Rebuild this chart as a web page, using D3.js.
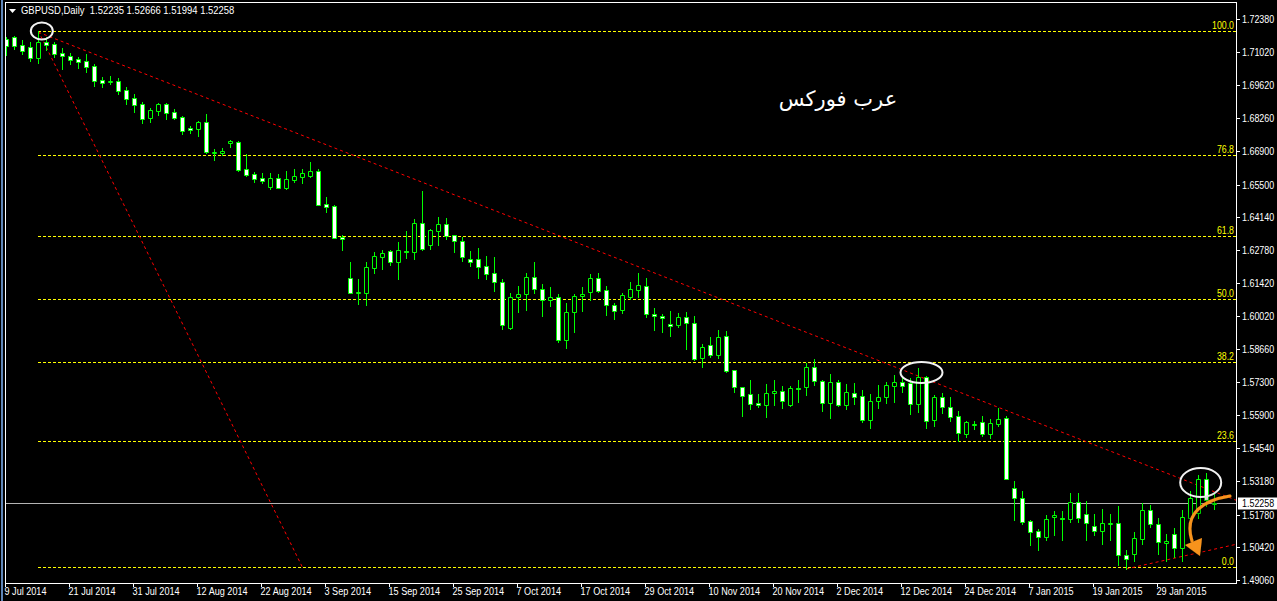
<!DOCTYPE html>
<html><head><meta charset="utf-8">
<script src="https://cdn.jsdelivr.net/npm/d3@7"></script>
<style>
html,body{margin:0;padding:0;background:#000;overflow:hidden}
svg{display:block}
text{font-family:"Liberation Sans",Arial,sans-serif}
</style></head><body>
<svg id="c" width="1277" height="601"></svg>
<script>
// ---------- data ----------
const symbolLabel = "GBPUSD,Daily";
const opens = [1.7155,1.7163,1.7130,1.7122,1.7076,1.7142,1.7134,1.7097,1.7084,1.7072,
1.7063,1.7043,1.6984,1.6976,1.6980,1.6943,1.6910,1.6885,1.6826,1.6856,
1.6885,1.6851,1.6831,1.6785,1.6781,1.6810,1.6683,1.6681,1.6723,1.6727,
1.6614,1.6594,1.6577,1.6540,1.6577,1.6536,1.6569,1.6581,1.6585,1.6606,
1.6469,1.6461,1.6332,1.6161,1.6101,1.6099,1.6203,1.6249,1.6274,1.6228,
1.6274,1.6269,1.6390,1.6299,1.6357,1.6386,1.6340,1.6315,1.6240,1.6240,
1.6211,1.6182,1.6145,1.5954,1.6082,1.6095,1.6166,1.6116,1.6070,1.6082,
1.5904,1.6020,1.6087,1.6103,1.6161,1.6111,1.6049,1.6028,1.6082,1.6111,
1.6128,1.6012,1.6003,1.5970,1.5966,1.5999,1.5974,1.5829,1.5883,1.5841,
1.5920,1.5779,1.5708,1.5679,1.5642,1.5633,1.5683,1.5692,1.5633,1.5704,
1.5708,1.5791,1.5733,1.5642,1.5729,1.5633,1.5683,1.5671,1.5571,1.5650,
1.5667,1.5712,1.5729,1.5725,1.5638,1.5750,1.5571,1.5667,1.5625,1.5588,
1.5513,1.5550,1.5563,1.5513,1.5554,1.5579,1.5288,1.5247,1.5151,1.5110,
1.5085,1.5168,1.5164,1.5160,1.5230,1.5180,1.5130,1.5110,1.5139,1.5143,
1.5010,1.5014,1.5076,1.5197,1.5139,1.5060,1.5097,1.5039,1.5164,1.5185,
1.5326,1.52235];
const highs = [1.7163,1.7167,1.7151,1.7142,1.7188,1.7163,1.7142,1.7118,1.7097,1.7080,
1.7093,1.7051,1.6997,1.7001,1.6993,1.6955,1.6926,1.6893,1.6868,1.6889,
1.6887,1.6864,1.6833,1.6793,1.6814,1.6843,1.6698,1.6702,1.6735,1.6729,
1.6677,1.6602,1.6598,1.6598,1.6594,1.6606,1.6614,1.6614,1.6644,1.6614,
1.6498,1.6465,1.6340,1.6228,1.6157,1.6228,1.6269,1.6278,1.6278,1.6311,
1.6357,1.6407,1.6523,1.6365,1.6415,1.6411,1.6342,1.6332,1.6274,1.6286,
1.6253,1.6249,1.6157,1.6099,1.6128,1.6182,1.6228,1.6137,1.6124,1.6095,
1.6058,1.6095,1.6124,1.6178,1.6182,1.6128,1.6058,1.6099,1.6145,1.6182,
1.6161,1.6037,1.6012,1.6024,1.6016,1.6020,1.6003,1.5887,1.5916,1.5945,
1.5941,1.5781,1.5710,1.5737,1.5679,1.5721,1.5737,1.5712,1.5712,1.5737,
1.5808,1.5825,1.5737,1.5762,1.5737,1.5721,1.5725,1.5696,1.5679,1.5717,
1.5729,1.5758,1.5746,1.5746,1.5787,1.5754,1.5675,1.5683,1.5667,1.5608,
1.5565,1.5567,1.5588,1.5575,1.5621,1.5588,1.5318,1.5276,1.5155,1.5118,
1.5176,1.5193,1.5193,1.5268,1.5268,1.5234,1.5180,1.5201,1.5180,1.5214,
1.5031,1.5106,1.5226,1.5218,1.5164,1.5097,1.5122,1.5197,1.5276,1.5342,
1.5351,1.52666];
const lows = [1.7088,1.7113,1.7093,1.7063,1.7055,1.7109,1.7080,1.7030,1.7051,1.7034,
1.7018,1.6960,1.6955,1.6968,1.6926,1.6885,1.6851,1.6806,1.6810,1.6839,
1.6822,1.6822,1.6760,1.6764,1.6752,1.6683,1.6652,1.6673,1.6706,1.6606,
1.6585,1.6560,1.6556,1.6531,1.6535,1.6531,1.6560,1.6556,1.6581,1.6463,
1.6436,1.6326,1.6278,1.6097,1.6053,1.6049,1.6182,1.6199,1.6215,1.6157,
1.6245,1.6240,1.6278,1.6282,1.6299,1.6324,1.6269,1.6232,1.6211,1.6161,
1.6157,1.6107,1.5949,1.5949,1.6020,1.6028,1.6099,1.6003,1.6045,1.5895,
1.5870,1.5937,1.6024,1.6070,1.6103,1.6008,1.5991,1.6016,1.6074,1.6082,
1.5999,1.5945,1.5937,1.5920,1.5958,1.5866,1.5820,1.5791,1.5833,1.5829,
1.5771,1.5687,1.5588,1.5617,1.5625,1.5584,1.5633,1.5621,1.5629,1.5646,
1.5675,1.5717,1.5608,1.5579,1.5629,1.5617,1.5638,1.5563,1.5538,1.5621,
1.5642,1.5646,1.5687,1.5596,1.5604,1.5538,1.5546,1.5600,1.5567,1.5484,
1.5500,1.5534,1.5505,1.5496,1.5546,1.5324,1.5155,1.5139,1.5051,1.5031,
1.5072,1.5093,1.5072,1.5147,1.5147,1.5072,1.5093,1.5056,1.5072,1.4968,
1.4952,1.4985,1.5056,1.5126,1.5014,1.4985,1.5002,1.4985,1.5151,1.5164,
1.5214,1.51994];
const closes = [1.7126,1.7126,1.7105,1.7076,1.7142,1.7130,1.7093,1.7084,1.7068,1.7059,
1.7039,1.6980,1.6972,1.6980,1.6939,1.6906,1.6881,1.6822,1.6860,1.6885,
1.6847,1.6827,1.6772,1.6777,1.6810,1.6685,1.6685,1.6689,1.6731,1.6610,
1.6590,1.6573,1.6565,1.6577,1.6536,1.6573,1.6585,1.6598,1.6606,1.6465,
1.6457,1.6328,1.6324,1.6099,1.6103,1.6207,1.6253,1.6265,1.6228,1.6278,
1.6270,1.6390,1.6282,1.6361,1.6386,1.6336,1.6315,1.6249,1.6228,1.6207,
1.6178,1.6145,1.5966,1.6082,1.6095,1.6166,1.6116,1.6070,1.6082,1.5904,
1.6020,1.6087,1.6095,1.6161,1.6107,1.6049,1.6024,1.6091,1.6116,1.6132,
1.6012,1.6003,1.5995,1.5962,1.5999,1.5974,1.5825,1.5875,1.5841,1.5916,
1.5775,1.5708,1.5671,1.5638,1.5633,1.5683,1.5692,1.5650,1.5704,1.5700,
1.5791,1.5733,1.5642,1.5729,1.5633,1.5687,1.5667,1.5571,1.5650,1.5667,
1.5717,1.5729,1.5712,1.5638,1.5750,1.5567,1.5667,1.5625,1.5584,1.5517,
1.5563,1.5554,1.5513,1.5559,1.5575,1.5326,1.5247,1.5147,1.5105,1.5085,
1.5160,1.5176,1.5160,1.5230,1.5164,1.5143,1.5110,1.5143,1.5143,1.5010,
1.4993,1.5081,1.5197,1.5139,1.5064,1.5068,1.5039,1.5168,1.5247,1.5326,
1.5239,1.52258];

const dateTickBars = [0,8,16,24,32,40,48,56,64,72,80,88,96,104,112,120,128,136,144];
const dateTickLabels = ["9 Jul 2014","21 Jul 2014","31 Jul 2014","12 Aug 2014","22 Aug 2014",
"3 Sep 2014","15 Sep 2014","25 Sep 2014","7 Oct 2014","17 Oct 2014","29 Oct 2014",
"10 Nov 2014","20 Nov 2014","2 Dec 2014","12 Dec 2014","24 Dec 2014","7 Jan 2015",
"19 Jan 2015","29 Jan 2015"];
const priceTicks = [1.72380,1.71020,1.69620,1.68260,1.66900,1.65500,1.64140,1.62780,1.61420,
1.60020,1.58660,1.57300,1.55900,1.54540,1.53180,1.51780,1.50420,1.49060];

const fibAnchorBars = [4, 37];
const fibAnchorPrices = [1.7188, 1.4960];
const fibLevels = [0, 23.6, 38.2, 50, 61.8, 76.8, 100];
const fibLabels = ["0.0","23.6","38.2","50.0","61.8","76.8","100.0"];

const trendDownBars = [4, 151];
const trendDownPrices = [1.7183, 1.5273];
const trendUpBars = [140, 151];
const trendUpPrices = [1.4952, 1.5034];

const ellipseBars = [4.44, 114.4, 149.3];
const ellipsePrices = [1.71881, 1.57685, 1.53114];
const ellipseRx = [11, 21, 20.5];
const ellipseRy = [8.5, 10.5, 14.5];

const arrowBars = [152.96, 149.84, 147.09, 148.21];
const arrowPrices = [1.52552, 1.52385, 1.51887, 1.50681];
const arrowHeadBars = [147.34, 149.46, 149.21];
const arrowHeadPrices = [1.50514, 1.50805, 1.50057];

const watermark = "عرب فوركس";

// ---------- layout ----------
const W = 1277, H = 601;
const plotL = 5, plotR = 1236, plotT = 2, plotB = 583;
const n = opens.length;
const x = d3.scaleLinear().domain([0, n - 1]).range([6.3, 6.3 + 8 * (n - 1)]);
const y = d3.scaleLinear().domain([1.49060, 1.72380]).range([580, 19]);

const svg = d3.select("#c");
svg.append("rect").attr("width", W).attr("height", H).attr("fill", "#000");
svg.append("rect").attr("x", 1).attr("y", 0).attr("width", 2).attr("height", H).attr("fill", "#5f86b8");

const defs = svg.append("defs");
defs.append("clipPath").attr("id", "clip").append("rect")
  .attr("x", plotL + 1).attr("y", plotT + 1).attr("width", plotR - plotL - 1).attr("height", plotB - plotT - 1);
const f = defs.append("filter").attr("id", "shadow").attr("x", "-50%").attr("y", "-50%").attr("width", "200%").attr("height", "200%");
f.append("feGaussianBlur").attr("in", "SourceAlpha").attr("stdDeviation", 3).attr("result", "b");
f.append("feFlood").attr("flood-color", "#000").attr("flood-opacity", 0.9).attr("result", "c");
f.append("feComposite").attr("in", "c").attr("in2", "b").attr("operator", "in").attr("result", "s");
const fm = f.append("feMerge");
fm.append("feMergeNode").attr("in", "s");
fm.append("feMergeNode").attr("in", "SourceGraphic");

function squeeze(sel, k) {
  sel.each(function () {
    const L = this.getComputedTextLength();
    this.setAttribute("textLength", (L * k).toFixed(1));
    this.setAttribute("lengthAdjust", "spacingAndGlyphs");
  });
}
const px = v => Math.round(v) + 0.5;

const plot = svg.append("g").attr("clip-path", "url(#clip)");

// current price line
const last = n - 1;
plot.append("line").attr("x1", plotL).attr("x2", plotR)
  .attr("y1", px(y(closes[last]))).attr("y2", px(y(closes[last])))
  .attr("stroke", "#b4b4b4").attr("stroke-width", 1).attr("shape-rendering", "crispEdges");

// fibonacci levels
const fibHigh = fibAnchorPrices[0], fibLow = fibAnchorPrices[1];
const fibG = plot.append("g");
fibLevels.forEach((lv, k) => {
  const p = fibLow + (fibHigh - fibLow) * lv / 100;
  const yy = px(y(p));
  fibG.append("line").attr("x1", Math.round(x(fibAnchorBars[0]))).attr("x2", plotR)
    .attr("y1", yy).attr("y2", yy).attr("shape-rendering", "crispEdges")
    .attr("stroke", "#ffff00").attr("stroke-width", 1).attr("stroke-dasharray", "3,2");
  fibG.append("text").attr("x", plotR - 2).attr("y", yy - 2.5)
    .attr("text-anchor", "end").attr("fill", "#ffff00").attr("font-size", 10)
    .text(fibLabels[k]).call(squeeze, 0.88);
});

// red dotted lines
function rayEnd(bars, prices) {
  const b2 = x.invert(plotR + 2);
  const s = (prices[1] - prices[0]) / (bars[1] - bars[0]);
  return [b2, prices[1] + s * (b2 - bars[1])];
}
const redStyle = s => s.attr("stroke", "#ff0000").attr("stroke-width", 1).attr("stroke-dasharray", "3,3").attr("fill", "none");
plot.append("line").attr("x1", x(fibAnchorBars[0])).attr("y1", y(fibAnchorPrices[0]))
  .attr("x2", x(fibAnchorBars[1])).attr("y2", y(fibAnchorPrices[1])).call(redStyle);
{
  const e = rayEnd(trendDownBars, trendDownPrices);
  plot.append("line").attr("x1", x(trendDownBars[0])).attr("y1", y(trendDownPrices[0]))
    .attr("x2", x(e[0])).attr("y2", y(e[1])).call(redStyle);
  const e2 = rayEnd(trendUpBars, trendUpPrices);
  plot.append("line").attr("x1", x(trendUpBars[0])).attr("y1", y(trendUpPrices[0]))
    .attr("x2", x(e2[0])).attr("y2", y(e2[1])).call(redStyle);
}

// candles
const data = d3.range(n).map(i => ({ i, o: opens[i], h: highs[i], l: lows[i], c: closes[i] }));
const cg = plot.append("g");
cg.selectAll("line.wick").data(data).join("line").attr("class", "wick")
  .attr("x1", d => Math.round(x(d.i)) + 0.5).attr("x2", d => Math.round(x(d.i)) + 0.5)
  .attr("y1", d => Math.round(y(d.h))).attr("y2", d => Math.round(y(d.l)) + 1)
  .attr("stroke", "#00ff00").attr("stroke-width", 1);
cg.selectAll("path.body").data(data).join("path").attr("class", "body")
  .attr("d", d => {
    const cx = Math.round(x(d.i));
    const t = px(y(Math.max(d.o, d.c))), b = px(y(Math.min(d.o, d.c)));
    return `M${cx - 1.5},${t}H${cx + 2.5}V${b}H${cx - 1.5}Z`;
  })
  .attr("fill", d => d.c < d.o ? "#ffffff" : "#000000")
  .attr("stroke", "#00ff00").attr("stroke-width", 1);

// ellipses
ellipseBars.forEach((b, k) => {
  plot.append("ellipse").attr("cx", x(b)).attr("cy", y(ellipsePrices[k]))
    .attr("rx", ellipseRx[k]).attr("ry", ellipseRy[k])
    .attr("fill", "none").attr("stroke", "#f2f2f2").attr("stroke-width", 2);
});

// orange arrow
{
  const P = arrowBars.map((b, k) => [x(b), y(arrowPrices[k])]);
  const A = arrowHeadBars.map((b, k) => [x(b), y(arrowHeadPrices[k])]);
  const ag = plot.append("g").attr("filter", "url(#shadow)");
  ag.append("path").attr("d", `M${P[0]}C${P[1]} ${P[2]} ${P[3]}`)
    .attr("fill", "none").attr("stroke", "#f7931e").attr("stroke-width", 3).attr("stroke-linecap", "round");
  ag.append("path").attr("d", `M${A[0]}L${A[1]}L${A[2]}Z`).attr("fill", "#f7931e");
}

// watermark text
svg.append("text").attr("x", 838).attr("y", 106).attr("text-anchor", "middle")
  .attr("fill", "#ffffff").attr("font-size", 21).style("font-family", "'DejaVu Sans', sans-serif")
  .text(watermark);

// frame
svg.append("line").attr("x1", plotL + 0.5).attr("x2", plotL + 0.5).attr("y1", plotT).attr("y2", plotB + 1).attr("stroke", "#fff");
svg.append("line").attr("x1", plotL).attr("x2", plotR + 1).attr("y1", plotT + 0.5).attr("y2", plotT + 0.5).attr("stroke", "#fff");
svg.append("line").attr("x1", plotR + 0.5).attr("x2", plotR + 0.5).attr("y1", plotT).attr("y2", plotB + 1).attr("stroke", "#fff");
svg.append("line").attr("x1", plotL).attr("x2", plotR + 1).attr("y1", plotB + 0.5).attr("y2", plotB + 0.5).attr("stroke", "#fff");

// price axis
const ya = svg.append("g");
priceTicks.forEach(p => {
  const yy = px(y(p));
  ya.append("line").attr("x1", plotR + 1).attr("x2", plotR + 4).attr("y1", yy).attr("y2", yy).attr("stroke", "#fff");
  ya.append("text").attr("x", 1242).attr("y", yy + 3.5).attr("fill", "#fff").attr("font-size", 10)
    .text(d3.format(".5f")(p)).call(squeeze, 0.89);
});
{
  const yy = px(y(closes[last]));
  ya.append("rect").attr("x", plotR + 2).attr("y", yy - 6).attr("width", W - plotR - 2).attr("height", 12).attr("fill", "#fff");
  ya.append("text").attr("x", 1242).attr("y", yy + 3.5).attr("fill", "#000").attr("font-size", 10)
    .text(d3.format(".5f")(closes[last])).call(squeeze, 0.89);
}

// time axis
const xa = svg.append("g");
dateTickBars.forEach((b, k) => {
  const xx = Math.round(x(b)) - 0.5;
  xa.append("line").attr("x1", xx).attr("x2", xx).attr("y1", plotB).attr("y2", plotB + 4).attr("stroke", "#fff");
  xa.append("text").attr("x", xx - 1).attr("y", 595).attr("fill", "#fff").attr("font-size", 10)
    .text(dateTickLabels[k]).call(squeeze, 0.91);
});

// header
svg.append("path").attr("d", "M9,9H16L12.5,13Z").attr("fill", "#fff");
svg.append("text").attr("x", 21).attr("y", 14).attr("fill", "#fff").attr("font-size", 10.5)
  .attr("xml:space", "preserve")
  .text(`${symbolLabel}  ${opens[last].toFixed(5)} ${highs[last].toFixed(5)} ${lows[last].toFixed(5)} ${closes[last].toFixed(5)}`)
  .call(squeeze, 0.9);
</script>
</body></html>
